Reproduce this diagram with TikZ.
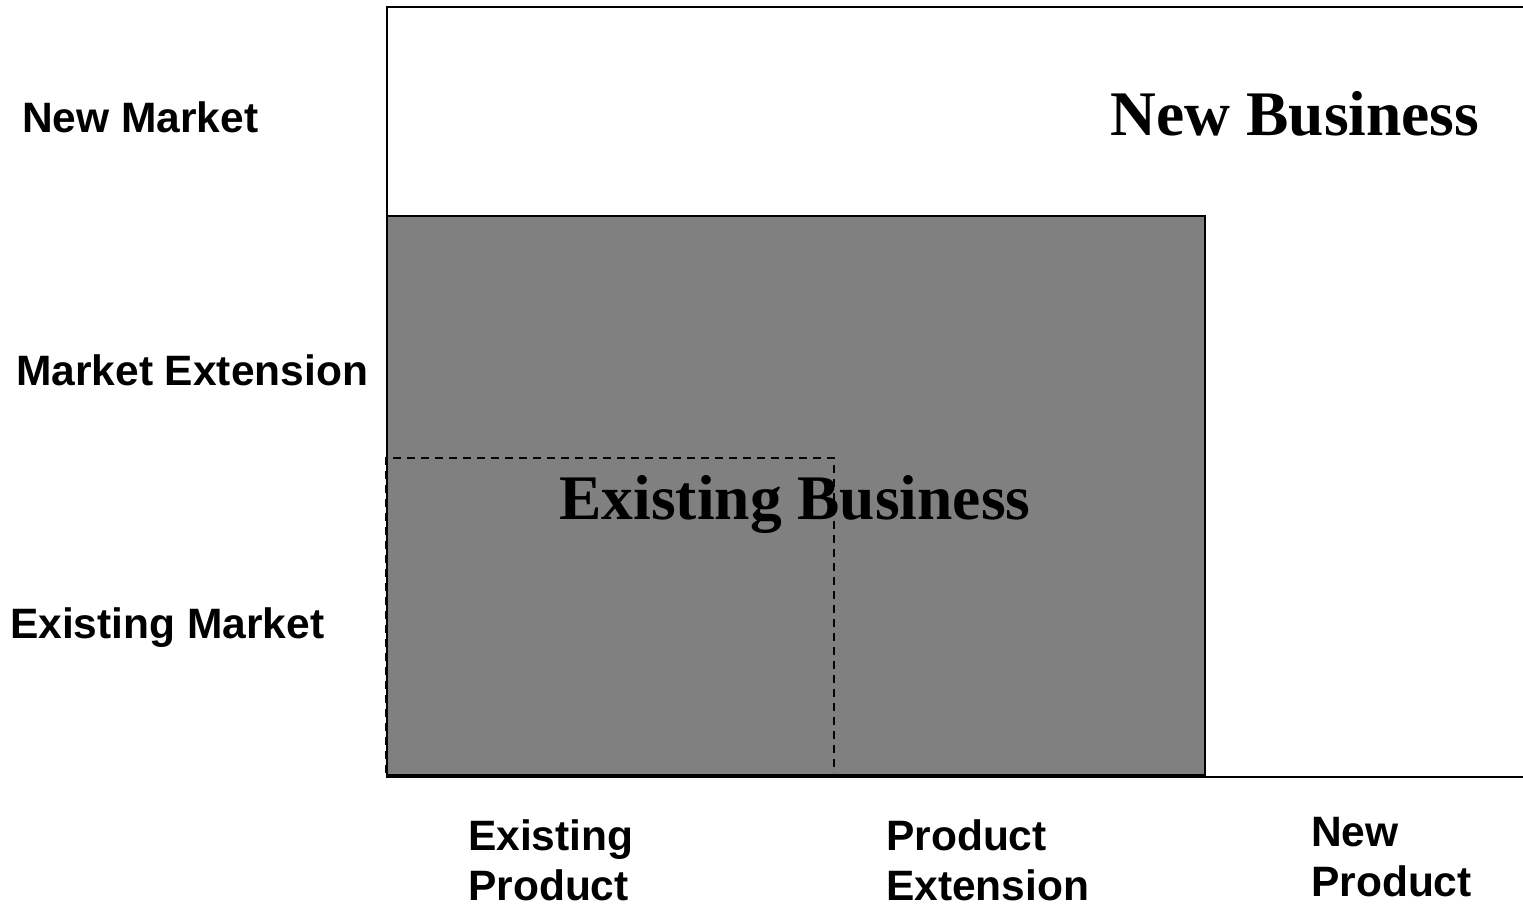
\documentclass[tikz,border=0pt]{standalone}
\usepackage{fontspec}
\setmainfont{Liberation Serif}
\setsansfont{Liberation Sans}

\begin{document}
\begin{tikzpicture}[x=1pt,y=-1pt,
  axislbl/.style={font=\sffamily\bfseries\fontsize{42.5}{50}\selectfont,inner sep=0pt,anchor=base west,align=left},
  bizlbl/.style={font=\bfseries\fontsize{63.5}{70}\selectfont,inner sep=0pt,anchor=base}]
\useasboundingbox(0,0)rectangle(1523,906);
\filldraw[fill=gray,draw=black,line width=2](387,216)rectangle(1205,775);
\draw[line width=1.5,dash pattern=on 8 off 6](386,773)--(386,458)--(834,458)--(834,773);
\draw[line width=2.5](1523,7)--(387,7)--(387,777)--(1523,777);
\node[axislbl](newmkt)at(22,132){New Market};
\node[axislbl](mktext)at(16,385){Market Extension};
\node[axislbl](exmkt)at(10,638){Existing Market};
\node[axislbl](exprod)at(468,900){Existing\\Product};
\node[axislbl](prodext)at(886,900){Product\\Extension};
\node[axislbl](newprod)at(1311,896){New\\Product};
\node[bizlbl](newbiz)at(1295,135){New Business};
\node[bizlbl](exbiz)at(795,519){Existing Business};
\end{tikzpicture}
\end{document}
